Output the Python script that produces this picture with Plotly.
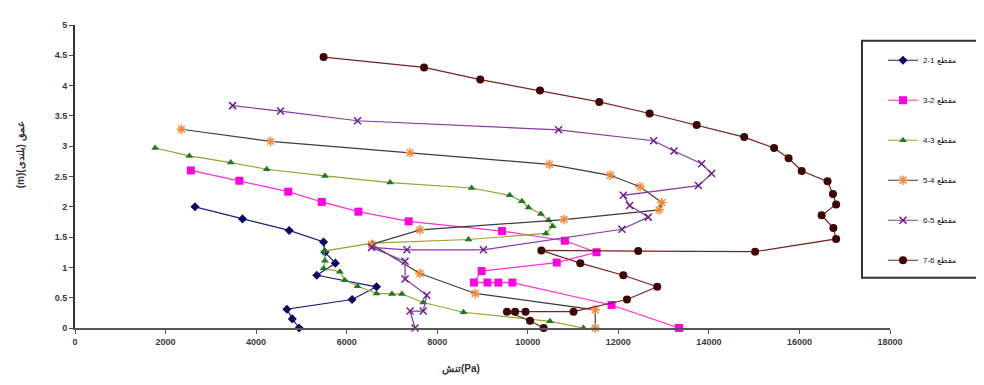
import plotly.graph_objects as go

# ---------------- data ----------------
x_21 = [2650, 3700, 4730, 5490, 5520, 5750, 5340, 6660, 6120, 4680, 4800, 4950]
y_21 = [2.00, 1.80, 1.61, 1.42, 1.25, 1.07, 0.87, 0.68, 0.47, 0.31, 0.15, 0.00]

x_32 = [2560, 3630, 4710, 5450, 6260, 7370, 9430, 10820, 11520, 10640, 8980,
        8810, 9110, 9350, 9660, 11850, 13340]
y_32 = [2.60, 2.43, 2.25, 2.08, 1.92, 1.76, 1.60, 1.44, 1.25, 1.08, 0.94,
        0.75, 0.75, 0.75, 0.75, 0.38, 0.00]

x_43 = [1770, 2525, 3440, 4235, 5520, 6960, 8760, 9600, 9870, 10015, 10290,
        10460, 10550, 10400, 8690, 6560, 5500, 5520, 5490, 5850, 5960, 6240,
        6660, 7000, 7220, 7690, 8580, 10490, 11230]
y_43 = [2.97, 2.84, 2.73, 2.62, 2.51, 2.40, 2.31, 2.19, 2.09, 1.99, 1.88,
        1.78, 1.68, 1.56, 1.46, 1.40, 1.27, 1.11, 0.98, 0.93, 0.79, 0.69,
        0.57, 0.56, 0.56, 0.42, 0.26, 0.11, 0.00]

x_54 = [2350, 4320, 7400, 10480, 11820, 12480, 12960, 12900, 10800, 7620,
        6550, 7620, 8840, 11490, 11490]
y_54 = [3.28, 3.08, 2.89, 2.70, 2.52, 2.33, 2.07, 1.95, 1.79, 1.62,
        1.38, 0.90, 0.57, 0.30, 0.00]

x_65 = [3480, 4540, 6240, 10680, 12780, 13230, 13840, 14060, 13770, 12110,
        12250, 12660, 12080, 9020, 7330, 6550, 7290, 7290, 7770, 7690, 7400, 7510]
y_65 = [3.67, 3.58, 3.42, 3.27, 3.09, 2.92, 2.71, 2.55, 2.35, 2.19,
        2.02, 1.83, 1.63, 1.29, 1.29, 1.33, 1.10, 0.81, 0.54, 0.28, 0.28, 0.00]

x_76 = [5490, 7710, 8950, 10270, 11580, 12690, 13730, 14780, 15440, 15760,
        16050, 16620, 16740, 16810, 16490, 16750, 16810, 15020, 12440, 10300,
        11160, 12110, 12860, 12190, 11010, 9950, 9720, 9540, 10050, 10350]
y_76 = [4.47, 4.30, 4.10, 3.92, 3.73, 3.54, 3.35, 3.15, 2.97, 2.80,
        2.59, 2.42, 2.21, 2.04, 1.86, 1.65, 1.47, 1.26, 1.27, 1.28,
        1.07, 0.87, 0.68, 0.47, 0.27, 0.27, 0.27, 0.27, 0.12, 0.00]

series_names = ["2-1 مقطع", "3-2 مقطع", "4-3 مقطع", "5-4 مقطع", "6-5 مقطع", "7-6 مقطع"]
x_ticks = [0, 2000, 4000, 6000, 8000, 10000, 12000, 14000, 16000, 18000]
y_ticks = [0, 0.5, 1, 1.5, 2, 2.5, 3, 3.5, 4, 4.5, 5]
y_tick_text = ["0", "0.5", "1", "1.5", "2", "2.5", "3", "3.5", "4", "4.5", "5"]
x_title = "تنش(Pa)"
y_title = "(m)عمق (بلندی)"

# ---------------- styles ----------------
styles = [
    dict(line="#1a1a80", mcolor="#0a0a60", symbol="diamond", size=7, mline=None),
    dict(line="#ff2bd6", mcolor="#ff00e0", symbol="square", size=8, mline=None),
    dict(line="#9aa032", mcolor="#1f7a1f", symbol="triangle-up", size=7, mline=None),
    dict(line="#3c3c3c", mcolor="#f08a3c", symbol="asterisk-open", size=8, mline="#f08a3c"),
    dict(line="#8a3a9e", mcolor="#6a1f8a", symbol="x-thin-open", size=7, mline="#6a1f8a"),
    dict(line="#7a2020", mcolor="#3d0505", symbol="circle", size=8, mline=None),
]

xs = [x_21, x_32, x_43, x_54, x_65, x_76]
ys = [y_21, y_32, y_43, y_54, y_65, y_76]

fig = go.Figure()
for i, (xv, yv, nm, st) in enumerate(zip(xs, ys, series_names, styles)):
    marker = dict(symbol=st["symbol"], size=st["size"], color=st["mcolor"])
    if st["mline"]:
        marker["line"] = dict(color=st["mline"], width=1.5)
    else:
        marker["line"] = dict(width=0)
    fig.add_trace(go.Scatter(
        x=xv, y=yv, name=nm, mode="lines+markers",
        line=dict(color=st["line"], width=1.2),
        marker=marker, cliponaxis=False, legendgroup=f"g{i}",
    ))

# page geometry (the html body adds an 8px margin)
OFF = 8
W, H = 984 - OFF, 385 - OFF
L, R, T, B = 75, 890, 21, 328          # plot area in page pixels
pw, ph = R - L, B - T

def px_x(p):
    return (p - L) / pw

def px_y(p):
    return (B - p) / ph

tick_font = dict(family="Liberation Sans", size=9, color="#3a3a3a", weight="bold")

fig.update_layout(
    width=W, height=H,
    margin=dict(l=L - OFF, r=W - (R - OFF), t=T - OFF, b=H - (B - OFF), pad=0),
    paper_bgcolor="white", plot_bgcolor="white",
    showlegend=True,
    legend=dict(
        x=px_x(883), y=px_y(42), xanchor="left", yanchor="top",
        bgcolor="rgba(0,0,0,0)", borderwidth=0,
        font=dict(family="Liberation Sans", size=8, color="#111"),
        tracegroupgap=21, traceorder="grouped", itemwidth=30,
    ),
    xaxis=dict(
        range=[0, 18000], tickvals=x_ticks, ticktext=[str(v) for v in x_ticks],
        showgrid=False, zeroline=False, showline=True, linecolor="#555", linewidth=2,
        ticks="outside", ticklen=4, tickcolor="#555", tickwidth=1,
        tickfont=tick_font,
    ),
    yaxis=dict(
        range=[0, 5], tickvals=y_ticks, ticktext=y_tick_text,
        showgrid=False, zeroline=False, showline=True, linecolor="#333", linewidth=2,
        ticks="outside", ticklen=4, tickcolor="#444", tickwidth=1,
        tickfont=tick_font,
    ),
    annotations=[
        dict(text="<b>" + x_title + "</b>", xref="paper", yref="paper",
             x=px_x(461), y=px_y(370), xanchor="center", yanchor="middle",
             showarrow=False,
             font=dict(family="Liberation Sans", size=10, color="#333")),
        dict(text="<b>" + y_title + "</b>", xref="paper", yref="paper",
             x=px_x(21), y=px_y(152), xanchor="center", yanchor="middle",
             showarrow=False, textangle=-90,
             font=dict(family="Liberation Sans", size=10, color="#333")),
    ],
    shapes=[
        dict(type="rect", xref="paper", yref="paper",
             x0=px_x(862), x1=px_x(995), y0=px_y(277), y1=px_y(37),
             line=dict(color="#333", width=2), fillcolor="rgba(0,0,0,0)", layer="below"),
    ],
)

fig.write_html("out.html")
